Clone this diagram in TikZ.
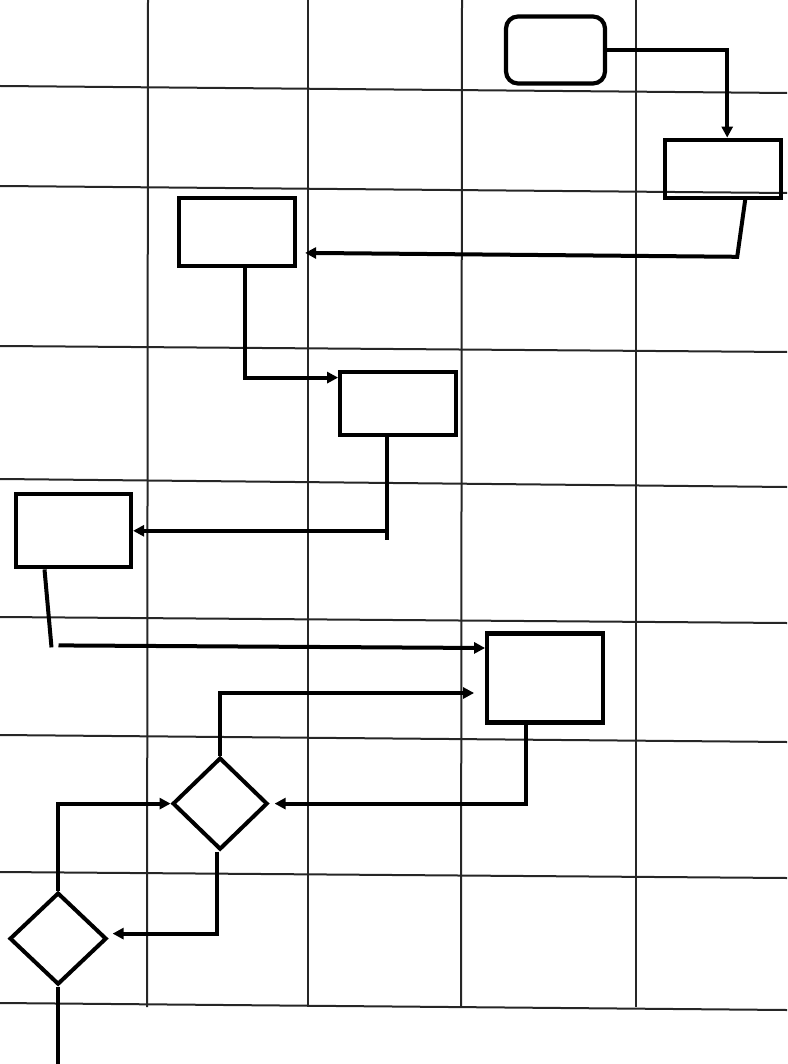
\documentclass[tikz,border=0pt]{standalone}
\usepackage{tikz}
\usetikzlibrary{shapes.geometric, arrows.meta, positioning}

\begin{document}
\begin{tikzpicture}[
  x=1pt, y=-1pt,
  node distance = 50pt and 50pt,
  box/.style       = {rectangle, draw, line width=4.2pt, inner sep=0pt,
                      minimum width=116pt},
  term/.style      = {box, rounded corners=12pt,
                      minimum width=99pt, minimum height=67pt},
  dec/.style       = {diamond, draw, line width=4pt, inner sep=0pt,
                      minimum width=95pt, minimum height=92pt},
  grid line/.style = {line width=2pt, black!85},
  conn/.style      = {line width=4pt},
  arr/.style       = {conn, -{Triangle[length=11pt, width=11pt]}},
]
  \useasboundingbox (0,0) rectangle (787,1064);

  % Grid
  \foreach \xa/\xb in {148/147, 308/308, 462/461, 636/636}
    \draw[grid line] (\xa,0) -- (\xb,1007);
  \foreach \ya/\yb in {86/93, 186/193, 346/352, 479/487, 617/623, 735/742, 872/878, 1003/1010}
    \draw[grid line] (0,\ya) -- (787,\yb);

  % Start
  \node[term] (start) at (555.5,50) {};

  % Process boxes
  \node[box, minimum height=58pt, below right=52pt and 56pt of start] (proc2) {};
  \node[box, minimum height=68pt, below left=-4pt and 366pt of proc2] (proc3) {};
  \node[box, minimum height=63pt, below right=102pt and 41pt of proc3] (proc4) {};
  \node[box, minimum width=115pt, minimum height=73pt,
        below left=55pt and 205pt of proc4] (proc5) {};
  \node[box, minimum height=89pt, below right=62pt and 352pt of proc5] (proc6) {};

  % Decisions
  \node[dec] (dec1) at ([xshift=-265pt,yshift=-79pt]proc6.south west) {};
  \node[dec, minimum width=97pt, minimum height=92pt]
        (dec2) at ([xshift=-162pt,yshift=-135pt]dec1.center) {};
  \coordinate[below=77pt of dec2.south] (exit);

  % Arrows
  \draw[arr] (start.east) -| ([xshift=4pt]proc2.north);
  \draw[arr] ([xshift=22pt]proc2.south) -- ([xshift=14pt,yshift=-57pt]proc2.south)
             -- ([xshift=8pt,yshift=-21pt]proc3.east);
  \draw[arr] ([xshift=8pt]proc3.south) |- ([yshift=26pt]proc4.west);
  \draw[conn] ([xshift=-11pt]proc4.south) -- ++(0,103);
  \draw[arr] ([xshift=-11pt]proc4.south |- proc5.east) -- (proc5.east);
  \draw[conn] ([xshift=-29pt]proc5.south) -- ++(7,78);
  \draw[arr] ([xshift=-15pt,yshift=-76pt]proc5.south) -- ([yshift=30pt]proc6.west);
  \draw[arr] (dec1.north) |- ([xshift=-11pt,yshift=-15pt]proc6.west);
  \draw[arr] ([xshift=-19pt]proc6.south) |- ([xshift=5pt]dec1.east);
  \draw[arr] (dec2.north) |- (dec1.west);
  \draw[arr] ([xshift=-3pt]dec1.south) |- ([xshift=4pt,yshift=5pt]dec2.east);
  \draw[conn] (dec2.south) -- (exit);
\end{tikzpicture}
\end{document}
